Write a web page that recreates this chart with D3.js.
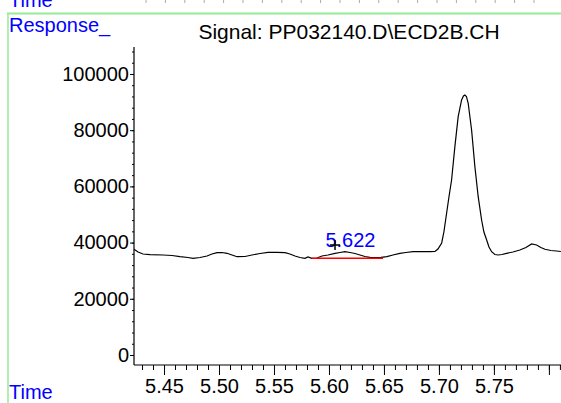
<!DOCTYPE html>
<html>
<head>
<meta charset="utf-8">
<script src="https://cdn.jsdelivr.net/npm/d3@7"></script>
<style>
  html, body { margin: 0; padding: 0; background: #fff; }
  svg { display: block; }
  text { font-family: "Liberation Sans", Arial, sans-serif; }
</style>
</head>
<body>
<svg id="chart" width="561" height="403"></svg>
<script>
// ---- data ----
const title = "Signal: PP032140.D\\ECD2B.CH";
const yAxisTitle = "Response_";
const xAxisTitle = "Time";

const times = [5.4227,5.4264,5.4309,5.4373,5.4491,5.4573,5.4645,5.4718,5.4764,5.4827,5.4891,5.4936,5.4982,5.5027,5.5073,5.5118,5.5164,5.5236,5.53,5.5373,5.5445,5.5527,5.56,5.5645,5.5691,5.5736,5.5782,5.5809,5.5845,5.5891,5.5936,5.5991,5.6055,5.61,5.6145,5.6191,5.6236,5.6282,5.6327,5.6373,5.6418,5.6473,5.6527,5.6582,5.6645,5.67,5.6764,5.6827,5.6918,5.6964,5.6991,5.7025,5.7045,5.707,5.7091,5.7115,5.7145,5.7175,5.7206,5.7223,5.7236,5.725,5.7266,5.7297,5.7327,5.7357,5.7388,5.7409,5.7434,5.7455,5.7479,5.7509,5.7539,5.7573,5.7615,5.7673,5.7736,5.7791,5.7843,5.7888,5.7927,5.7964,5.8018,5.807,5.8109];
const responses = [37600,36650,35940,35700,35590,35400,34980,34700,34410,34700,35230,35940,36400,36480,36190,35590,34980,35050,35590,36120,36550,36550,36400,35940,35230,34700,34410,34880,34410,34520,35230,35590,36190,36480,36760,36480,36120,35590,35050,34770,34700,34770,34980,35590,36190,36480,36760,36760,36760,36830,37720,39860,43770,50530,56230,62280,74130,84800,90750,92170,92530,92000,89570,80070,67010,56330,48040,43770,40930,38430,36760,35770,35590,35770,36190,36650,37370,38260,39500,39150,38260,37620,37190,37010,36830];

const baselineTimes = [5.5845, 5.6491];
const baselineValues = [34400, 34400];

const peakRT = "5.622";
const peakLabelTime = 5.6195;
const peakLabelValue = 38400;
const markerTime = 5.6055;
const markerValue = 39150;

const yMajorTicks = [0, 20000, 40000, 60000, 80000, 100000];
const yMinorTicks = d3.range(0, 108001, 4000);
const xMajorTicks = [5.45, 5.50, 5.55, 5.60, 5.65, 5.70, 5.75, 5.80];
const xLabelTicks = ["5.45","5.50","5.55","5.60","5.65","5.70","5.75"];
const xMinorTicks = d3.range(5.43, 5.815, 0.01).map(v => +v.toFixed(2));

const timeDomain = [5.4227, 5.811];
const responseDomain = [-3560, 109600];

// ---- layout ----
const svg = d3.select("#chart");
const plot = { left: 134, right: 561, top: 47, bottom: 365 };
const x = d3.scaleLinear().domain(timeDomain).range([plot.left, plot.right]);
const y = d3.scaleLinear().domain(responseDomain).range([plot.bottom, plot.top]);

const blue = "#0000ff";
const green = "#96ec96";

// remnants of the previous panel's axis at the very top
const prevTicks = d3.range(0, 21);
const prevX = d3.scaleLinear().domain([0, 20]).range([146, 534]);
svg.append("g").selectAll("line").data(prevTicks).join("line")
  .attr("x1", d => prevX(d)).attr("x2", d => prevX(d))
  .attr("y1", 0).attr("y2", 3)
  .attr("stroke", "#aaa").attr("stroke-width", 1);

svg.append("text").attr("x", 9).attr("y", 6.5)
  .attr("fill", blue).attr("font-size", 20).text(xAxisTitle);

// green frame
svg.append("line").attr("x1", 7).attr("x2", 561).attr("y1", 13.5).attr("y2", 13.5)
  .attr("stroke", green).attr("stroke-width", 2);
svg.append("line").attr("x1", 8).attr("x2", 8).attr("y1", 13).attr("y2", 403)
  .attr("stroke", green).attr("stroke-width", 1.5);

// titles
svg.append("text").attr("x", 9).attr("y", 32)
  .attr("fill", blue).attr("font-size", 20).text(yAxisTitle);
svg.append("text").attr("x", 349).attr("y", 39).attr("text-anchor", "middle")
  .attr("fill", "#000").attr("font-size", 21).text(title);
svg.append("text").attr("x", 9).attr("y", 399)
  .attr("fill", blue).attr("font-size", 20).text(xAxisTitle);

// y axis
const yAxisG = svg.append("g").attr("transform", `translate(${plot.left},0)`);
yAxisG.call(d3.axisLeft(y).tickValues(yMinorTicks).tickSize(2).tickFormat(""));
yAxisG.select(".domain").remove();
const yMajorG = svg.append("g").attr("transform", `translate(${plot.left},0)`)
  .call(d3.axisLeft(y).tickValues(yMajorTicks).tickSize(4).tickPadding(1).tickFormat(d3.format("d")));
yMajorG.select(".domain").remove();
svg.append("line").attr("x1", plot.left).attr("x2", plot.left)
  .attr("y1", plot.top).attr("y2", plot.bottom).attr("stroke", "#000").attr("stroke-width", 1.2);
svg.selectAll("g text").attr("font-size", 20).attr("fill", "#000")
  .attr("font-family", "'Liberation Sans', Arial, sans-serif");

// x axis
const xMinorG = svg.append("g").attr("transform", `translate(0,${plot.bottom})`)
  .call(d3.axisBottom(x).tickValues(xMinorTicks).tickSize(5).tickFormat(""));
xMinorG.select(".domain").remove();
const xMajorG = svg.append("g").attr("transform", `translate(0,${plot.bottom})`)
  .call(d3.axisBottom(x).tickValues(xMajorTicks).tickSize(10).tickPadding(4)
    .tickFormat(d => { const s = d3.format(".2f")(d); return xLabelTicks.includes(s) ? s : ""; }));
xMajorG.select(".domain").remove();
xMajorG.selectAll("text").attr("font-size", 20).attr("fill", "#000")
  .attr("font-family", "'Liberation Sans', Arial, sans-serif");
svg.append("line").attr("x1", plot.left).attr("x2", plot.right)
  .attr("y1", plot.bottom).attr("y2", plot.bottom).attr("stroke", "#000").attr("stroke-width", 1.2);
svg.selectAll(".tick line").attr("stroke", "#000");

// trace
const pts = times.map((t, i) => [t, responses[i]]);
svg.append("path").datum(pts)
  .attr("fill", "none").attr("stroke", "#000").attr("stroke-width", 1.2)
  .attr("d", d3.line().x(d => x(d[0])).y(d => y(d[1])));

// integration baseline
svg.append("line")
  .attr("x1", x(baselineTimes[0])).attr("x2", x(baselineTimes[1]))
  .attr("y1", y(baselineValues[0])).attr("y2", y(baselineValues[1]))
  .attr("stroke", "#ff0000").attr("stroke-width", 1.5);

// peak label and marker
svg.append("text").attr("x", x(peakLabelTime)).attr("y", y(peakLabelValue))
  .attr("text-anchor", "middle").attr("fill", blue).attr("font-size", 20).text(peakRT);
const mx = x(markerTime), my = y(markerValue);
svg.append("path").attr("d", `M${mx-5},${my}H${mx+5}M${mx},${my-5}V${my+5}`)
  .attr("stroke", "#000").attr("stroke-width", 1.5);
</script>
</body>
</html>
